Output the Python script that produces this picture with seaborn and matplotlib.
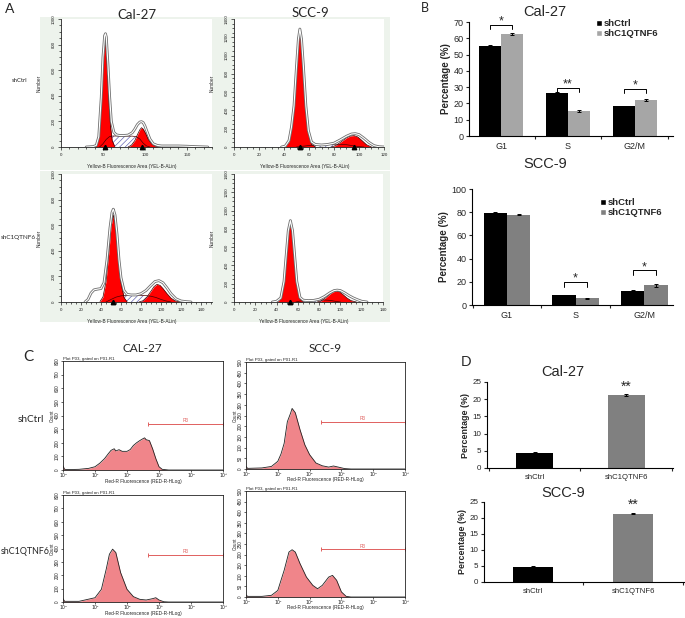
import numpy as np
import pandas as pd
import matplotlib
matplotlib.use("Agg")
import matplotlib.pyplot as plt
import seaborn as sns
from matplotlib.patches import Rectangle, Patch
from matplotlib.ticker import MultipleLocator, FixedLocator

sns.set_style("white")
plt.rcParams["font.family"] = ["Liberation Sans", "DejaVu Sans"]
plt.rcParams["hatch.linewidth"] = 0.45
plt.rcParams["hatch.color"] = "#5a5ab0"

# ---------------- data ----------------
# Panel A: DNA-content histograms (channel value, count)
a1_env_x = [30, 38, 42, 45, 48, 50, 52, 53, 54, 56, 58, 60, 63, 66, 70, 75, 80, 85, 88, 91, 94, 96, 98, 100, 103, 106, 110, 115, 120, 130, 140, 150, 160, 175]
a1_env_y = [0, 3, 12, 80, 390, 700, 870, 885, 860, 640, 390, 200, 115, 95, 90, 90, 93, 112, 140, 175, 195, 198, 190, 165, 112, 62, 25, 12, 8, 8, 8, 6, 3, 0]
a1_g1_x = [41, 44, 46, 48, 50, 51.5, 52.5, 53.5, 55, 57, 59, 61, 64]
a1_g1_y = [5, 50, 160, 370, 640, 800, 840, 800, 640, 370, 160, 50, 5]
a1_g2_x = [80, 84, 88, 91, 94, 96, 98, 101, 104, 108, 112, 116]
a1_g2_y = [0, 15, 50, 95, 135, 151, 140, 105, 60, 25, 8, 0]
a1_s_x = [46, 50, 54, 58, 62, 66, 70, 75, 80, 85, 90, 94, 98, 102, 106]
a1_s_y = [0, 25, 60, 82, 86, 86, 85, 85, 85, 85, 80, 62, 30, 8, 0]
a1_marks = [52.5, 96]

a2_env_x = [38, 41, 44, 46, 48, 50, 51.5, 52.7, 54, 55.5, 57.5, 59.5, 62, 65, 70, 75, 80, 85, 90, 94, 97, 100, 104, 108, 112, 116, 120]
a2_env_y = [0, 10, 70, 220, 450, 880, 1180, 1290, 1180, 890, 450, 180, 55, 28, 22, 28, 42, 78, 118, 142, 146, 136, 96, 50, 15, 3, 0]
a2_g1_x = [41, 44, 46, 48, 50, 51.5, 52.7, 54, 55.5, 57.5, 59.5, 62, 65]
a2_g1_y = [5, 60, 200, 430, 850, 1150, 1265, 1150, 860, 420, 160, 30, 3]
a2_g2_x = [78, 82, 86, 90, 93, 96, 99, 102, 106, 110]
a2_g2_y = [0, 20, 60, 100, 120, 125, 110, 75, 25, 0]
a2_s_x = [50, 55, 60, 65, 70, 75, 80, 85, 90, 95, 100, 104]
a2_s_y = [0, 8, 16, 22, 25, 28, 30, 30, 25, 14, 4, 0]
a2_marks = [52.7, 96]

a3_env_x = [24, 27, 30, 33, 36, 40, 43, 46, 49, 51, 52.3, 54, 56, 58, 60, 63, 66, 70, 75, 80, 85, 90, 94, 98, 102, 106, 110, 115, 120, 125, 130]
a3_env_y = [0, 20, 70, 95, 100, 105, 150, 330, 580, 700, 725, 680, 530, 330, 190, 90, 60, 55, 55, 65, 90, 130, 160, 167, 150, 110, 65, 25, 8, 3, 0]
a3_g1_x = [39, 42, 45, 48, 50, 52.3, 54.5, 57, 60, 63, 66]
a3_g1_y = [3, 40, 160, 400, 590, 680, 600, 380, 150, 35, 3]
a3_g2_x = [78, 82, 86, 90, 93, 96, 99, 102, 106, 110, 114, 119]
a3_g2_y = [0, 10, 40, 85, 120, 138, 130, 105, 65, 30, 10, 0]
a3_s_x = [45, 50, 55, 60, 65, 70, 75, 80, 85, 90, 95, 100, 105, 110]
a3_s_y = [0, 20, 38, 48, 52, 55, 55, 52, 50, 45, 35, 20, 8, 0]
a3_marks = [52.3]

a4_env_x = [36, 40, 44, 47, 49, 51, 53, 55, 57, 59, 62, 65, 70, 75, 80, 85, 90, 94, 97, 100, 104, 108, 112, 116, 120, 125]
a4_env_y = [0, 8, 45, 225, 505, 780, 890, 780, 505, 225, 50, 20, 15, 18, 30, 60, 100, 125, 130, 125, 100, 70, 45, 25, 8, 0]
a4_g1_x = [41, 44, 47, 49, 51, 53, 55, 57, 59, 62, 65]
a4_g1_y = [3, 40, 220, 500, 770, 880, 770, 500, 220, 40, 3]
a4_g2_x = [78, 82, 86, 90, 93, 96, 99, 102, 106, 110, 115]
a4_g2_y = [0, 12, 45, 85, 110, 120, 112, 85, 45, 15, 0]
a4_s_x = [58, 62, 66, 70, 75, 80, 85, 90, 95, 100]
a4_s_y = [0, 10, 15, 18, 20, 22, 22, 18, 8, 0]
a4_marks = [53]

# Panel B: cell-cycle distribution (%)
phases = ["G1", "S", "G2/M"]
groups = ["shCtrl", "shC1QTNF6"]
b_cal_ctrl = [55.5, 26.5, 18.2]
b_cal_kd = [62.5, 15.2, 22.3]
b_cal_ctrl_err = [0.5, 0.5, 0.4]
b_cal_kd_err = [0.5, 0.6, 0.6]
b_scc_ctrl = [79.5, 8.5, 12.5]
b_scc_kd = [78.0, 6.0, 17.0]
b_scc_ctrl_err = [0.4, 0.5, 0.5]
b_scc_kd_err = [0.6, 0.4, 1.3]
b_cal_sig = ["*", "**", "*"]
b_cal_sig_y = [68.0, 29.3, 29.0]
b_scc_sig = ["", "*", "*"]
b_scc_sig_y = [0.0, 19.8, 30.0]

# Panel C: apoptosis histograms (log10 fluorescence, count)
c_decade_labels = ["10⁰", "10¹", "10²", "10³", "10⁴", "10⁵"]
c1_lx = [0, 0.05, 0.15, 0.5, 0.8, 1.0, 1.15, 1.3, 1.4, 1.5, 1.6, 1.65, 1.75, 1.85, 2.0, 2.1, 2.2, 2.3, 2.4, 2.5, 2.55, 2.6, 2.7, 2.8, 2.9, 3.0, 3.1, 3.3, 5.0]
c1_ct = [30, 5, 3, 5, 12, 24, 50, 84, 115, 144, 156, 140, 149, 137, 137, 150, 180, 200, 216, 230, 236, 222, 216, 156, 84, 24, 5, 0, 0]
c2_lx = [0, 0.05, 0.5, 0.8, 1.0, 1.1, 1.2, 1.3, 1.4, 1.45, 1.55, 1.7, 1.85, 2.0, 2.2, 2.4, 2.6, 2.75, 2.9, 3.1, 3.3, 5.0]
c2_ct = [12, 3, 5, 12, 36, 70, 120, 221, 260, 283, 263, 183, 113, 67, 28, 15, 9, 14, 9, 2, 0, 0]
c3_lx = [0, 0.05, 0.5, 1.0, 1.2, 1.35, 1.45, 1.55, 1.65, 1.8, 2.0, 2.2, 2.4, 2.6, 2.8, 2.9, 3.0, 3.15, 3.3, 5.0]
c3_ct = [25, 5, 5, 32, 95, 245, 357, 395, 370, 220, 95, 40, 20, 15, 25, 32, 15, 2, 0, 0]
c4_lx = [0, 0.05, 0.5, 0.8, 1.0, 1.2, 1.35, 1.45, 1.55, 1.7, 1.9, 2.1, 2.25, 2.4, 2.6, 2.72, 2.85, 3.0, 3.15, 3.3, 5.0]
c4_ct = [10, 3, 3, 8, 31, 126, 212, 223, 212, 157, 94, 55, 39, 55, 94, 102, 79, 24, 3, 0, 0]
c_gate_y = [340, 220, 355, 226]
c_gate_lx = [2.66, 2.36, 2.66, 2.36]

# Panel D: apoptotic cells (%)
d_cal = [4.5, 21.3]
d_cal_err = [0.2, 0.35]
d_scc = [4.7, 21.4]
d_scc_err = [0.25, 0.3]

# ---------------- figure ----------------
W, H = 685, 618
fig = plt.figure(figsize=(W / 100, H / 100), dpi=100)
fig.patch.set_facecolor("white")


def pax(l, t, r, b):
    return fig.add_axes([l / W, 1 - b / H, (r - l) / W, (b - t) / H])


def ftext(x, y, s, **kw):
    kw.setdefault("ha", "center")
    kw.setdefault("va", "center")
    fig.text(x / W, 1 - y / H, s, **kw)


def frect(l, t, r, b, color):
    fig.add_artist(Rectangle((l / W, 1 - b / H), (r - l) / W, (b - t) / H,
                             transform=fig.transFigure, color=color, zorder=-5, lw=0))


LATO = ["Lato", "DejaVu Sans"]
PALE = "#edf3ec"


# ---- Panel A ----
def draw_A(ax, ex, ey, g1x, g1y, g2x, g2y, sx, sy, marks, xmax, xmaj, xmin, ymax):
    ax.set_facecolor("white")
    ax.fill_between(sx, sy, facecolor="white", hatch="//////", edgecolor="#5a5ab0", linewidth=0, zorder=1)
    ax.fill_between(g1x, g1y, color="#ff0000", lw=0, zorder=2)
    ax.fill_between(g2x, g2y, color="#ff0000", lw=0, zorder=2)
    sns.lineplot(x=sx, y=sy, ax=ax, color="#4a0000", lw=0.5, sort=False, zorder=3)
    sns.lineplot(x=g1x, y=g1y, ax=ax, color="#3a0000", lw=0.5, sort=False, zorder=3)
    sns.lineplot(x=g2x, y=g2y, ax=ax, color="#3a0000", lw=0.5, sort=False, zorder=3)
    ax.plot(ex, ey, color="#6e6e6e", lw=2.0, zorder=4)
    ax.plot(ex, ey, color="white", lw=0.8, zorder=4)
    ax.plot(marks, [0] * len(marks), "^", color="black", ms=3.2, clip_on=False, zorder=6)
    ax.set_xlim(0, xmax)
    ax.set_ylim(0, ymax)
    for s in ("top", "right"):
        ax.spines[s].set_visible(False)
    for s in ("left", "bottom"):
        ax.spines[s].set_color("#222")
        ax.spines[s].set_linewidth(0.6)
    ax.xaxis.set_major_locator(MultipleLocator(xmaj))
    ax.xaxis.set_minor_locator(MultipleLocator(xmin))
    ax.yaxis.set_major_locator(MultipleLocator(200))
    ax.yaxis.set_minor_locator(MultipleLocator(50))
    ax.tick_params(which="both", direction="out", width=0.5, colors="#222", labelsize=3.2, pad=1.5)
    ax.tick_params(which="major", length=2.5, bottom=True, left=True)
    ax.tick_params(which="minor", length=1.5, bottom=True, left=True)
    for lab in ax.get_yticklabels():
        lab.set_rotation(90)
        lab.set_va("center")
    ax.set_xlabel("Yellow-B Fluorescence Area (YEL-B-ALin)", fontsize=3.4)
    ax.set_ylabel("Number", fontsize=3.4)
    ax.xaxis.set_label_coords(0.47, -0.13)
    ax.yaxis.set_label_coords(-0.13, 0.5)


frect(40, 17, 213, 170, PALE)
frect(211, 17, 390, 170, PALE)
frect(40, 171, 213, 322, PALE)
frect(211, 171, 390, 322, PALE)

axA1 = pax(61, 19, 212, 147)
draw_A(axA1, a1_env_x, a1_env_y, a1_g1_x, a1_g1_y, a1_g2_x, a1_g2_y, a1_s_x, a1_s_y, a1_marks, 180, 50, 10, 1000)
axA2 = pax(234, 19, 384, 147)
draw_A(axA2, a2_env_x, a2_env_y, a2_g1_x, a2_g1_y, a2_g2_x, a2_g2_y, a2_s_x, a2_s_y, a2_marks, 120, 20, 5, 1400)
axA3 = pax(61, 174, 212, 302)
draw_A(axA3, a3_env_x, a3_env_y, a3_g1_x, a3_g1_y, a3_g2_x, a3_g2_y, a3_s_x, a3_s_y, a3_marks, 151, 20, 5, 1000)
axA4 = pax(234, 174, 383, 302)
draw_A(axA4, a4_env_x, a4_env_y, a4_g1_x, a4_g1_y, a4_g2_x, a4_g2_y, a4_s_x, a4_s_y, a4_marks, 140, 20, 5, 1400)

ftext(10, 9, "A", fontsize=10, family=LATO)
ftext(137, 15, "Cal-27", fontsize=9.5, family=LATO)
ftext(310, 13, "SCC-9", fontsize=9.5, family=LATO)
ftext(20, 81, "shCtrl", fontsize=4.3, family=LATO)
ftext(18, 237, "shC1QTNF6", fontsize=4.6, family=LATO)


# ---- Panel B ----
def style_bar_axes(ax, ncat, xlim, ymax, ystep, ylab_size, tick_size, xlab_size):
    ax.set_xlim(*xlim)
    ax.set_ylim(0, ymax)
    ax.yaxis.set_major_locator(MultipleLocator(ystep))
    for s in ("top", "right"):
        ax.spines[s].set_visible(False)
    for s in ("left", "bottom"):
        ax.spines[s].set_color("black")
        ax.spines[s].set_linewidth(0.8)
    ax.xaxis.set_minor_locator(FixedLocator(list(np.arange(ncat + 1) - 0.5)))
    ax.tick_params(axis="x", which="major", length=0, labelsize=xlab_size, pad=4)
    ax.tick_params(axis="x", which="minor", length=2.5, width=0.8, direction="out", bottom=True)
    ax.tick_params(axis="y", which="major", length=2.5, width=0.8, direction="out", left=True,
                   labelsize=tick_size, pad=1.5)
    ax.set_xlabel("")
    ax.set_ylabel("Percentage (%)", fontsize=ylab_size, fontweight="bold", labelpad=2)
    ax.grid(False)


def draw_B(ax, ctrl, kd, ectrl, ekd, gray, width, xlim, ymax, ystep, sig, sig_y, sig_h, leg_xy):
    df = pd.DataFrame({"phase": phases + phases,
                       "group": [groups[0]] * 3 + [groups[1]] * 3,
                       "pct": ctrl + kd})
    sns.barplot(data=df, x="phase", y="pct", hue="group", palette=["black", gray],
                width=width, errorbar=None, saturation=1, ax=ax, legend=False, linewidth=0)
    centers = []
    for cont, errs in zip(ax.containers, (ectrl, ekd)):
        cs = []
        for bar, e in zip(cont, errs):
            cx = bar.get_x() + bar.get_width() / 2
            cs.append(cx)
            ax.errorbar(cx, bar.get_height(), yerr=e, fmt="none", ecolor="black",
                        elinewidth=0.7, capsize=1.3, capthick=0.7, zorder=5)
        centers.append(cs)
    for i, (lab, y) in enumerate(zip(sig, sig_y)):
        if not lab:
            continue
        x0, x1 = centers[0][i], centers[1][i]
        ax.plot([x0, x0, x1, x1], [y - sig_h, y, y, y - sig_h], color="black", lw=0.7, clip_on=False)
        ax.text((x0 + x1) / 2, y - sig_h * 0.6, lab, ha="center", va="bottom", fontsize=9)
    style_bar_axes(ax, 3, xlim, ymax, ystep, 7, 6.5, 6.5)
    ax.legend(handles=[Patch(facecolor="black"), Patch(facecolor=gray)], labels=groups,
              loc="upper left", bbox_to_anchor=(leg_xy[0] / W, 1 - leg_xy[1] / H),
              bbox_transform=fig.transFigure, frameon=False,
              prop=dict(weight="bold", size=6.8), handlelength=0.65, handleheight=0.65,
              handletextpad=0.2, labelspacing=0.15, borderpad=0, borderaxespad=0)


axB1 = pax(469, 22, 673, 136)
draw_B(axB1, b_cal_ctrl, b_cal_kd, b_cal_ctrl_err, b_cal_kd_err, "#a6a6a6", 0.66,
       (-0.48, 2.57), 70, 10, b_cal_sig, b_cal_sig_y, 2.5, (596, 19))
axB2 = pax(472, 189, 673, 305)
draw_B(axB2, b_scc_ctrl, b_scc_kd, b_scc_ctrl_err, b_scc_kd_err, "#808080", 0.68,
       (-0.51, 2.42), 100, 20, b_scc_sig, b_scc_sig_y, 4.0, (600, 198))
ftext(425, 8, "B", fontsize=9, family=LATO)
ftext(545, 12, "Cal-27", fontsize=10.5)
ftext(545, 164, "SCC-9", fontsize=10.5)


# ---- Panel C ----
def draw_C(ax, lx, ct, ymax, ystep, gate_y, gate_lx):
    x = np.power(10.0, np.asarray(lx))
    ax.fill_between(x, ct, color="#f0858a", lw=0)
    sns.lineplot(x=x, y=ct, ax=ax, color="#222222", lw=0.6, sort=False)
    ax.set_xscale("log")
    ax.set_xlim(1, 1e5)
    ax.set_ylim(0, ymax)
    gx0 = 10 ** gate_lx
    ax.plot([gx0, 1e5], [gate_y, gate_y], color="#e0605e", lw=0.7, clip_on=False)
    ax.plot([gx0, 1e5], [gate_y, gate_y], "|", color="#e0605e", ms=3, mew=0.7, clip_on=False)
    ax.text(10 ** ((gate_lx + 5) / 2), gate_y + ymax * 0.005, "R3", color="#e0605e",
            fontsize=3.4, ha="center", va="bottom")
    for s in ax.spines.values():
        s.set_color("#222")
        s.set_linewidth(0.6)
    ax.set_xticks([10.0 ** k for k in range(len(c_decade_labels))])
    ax.set_xticklabels(c_decade_labels, family=["DejaVu Sans"])
    ax.xaxis.set_minor_locator(FixedLocator([]))
    ax.yaxis.set_major_locator(MultipleLocator(ystep))
    ax.tick_params(which="major", direction="out", length=1.5, width=0.5, labelsize=3.3, pad=0.6,
                   bottom=True, left=True, colors="#222")
    for lab in ax.get_yticklabels():
        lab.set_rotation(90)
        lab.set_va("center")
    h = ax.get_position().height * H
    w = ax.get_position().width * W
    ax.set_xlabel("Red-R Fluorescence (RED-R-HLog)", fontsize=3.4, va="center")
    ax.xaxis.set_label_coords(0.5, -11.0 / h)
    ax.set_ylabel("Count", fontsize=3.3, va="center")
    ax.yaxis.set_label_coords(-10.5 / w, 0.5)
    ax.set_title("Plot P03, gated on P01.R1", fontsize=3.2, loc="left", pad=0.8)
    ax.grid(False)


axC1 = pax(63, 361, 223, 470)
draw_C(axC1, c1_lx, c1_ct, 800, 100, c_gate_y[0], c_gate_lx[0])
axC2 = pax(246, 362, 405, 469)
draw_C(axC2, c2_lx, c2_ct, 500, 50, c_gate_y[1], c_gate_lx[1])
axC3 = pax(63, 495, 223, 602)
draw_C(axC3, c3_lx, c3_ct, 800, 100, c_gate_y[2], c_gate_lx[2])
axC4 = pax(246, 491, 405, 597)
draw_C(axC4, c4_lx, c4_ct, 500, 50, c_gate_y[3], c_gate_lx[3])

ftext(28, 357, "C", fontsize=11, family=LATO)
ftext(142, 348, "CAL-27", fontsize=8.5, family=LATO)
ftext(325, 349, "SCC-9", fontsize=8.5, family=LATO)
ftext(31, 420, "shCtrl", fontsize=7.2, family=LATO)
ftext(25, 552, "shC1QTNF6", fontsize=6.4, family=LATO)


# ---- Panel D ----
def draw_D(ax, vals, errs, xlim):
    df = pd.DataFrame({"group": groups, "pct": vals})
    sns.barplot(data=df, x="group", y="pct", hue="group", palette=["black", "#808080"],
                width=0.4, errorbar=None, saturation=1, legend=False, ax=ax, linewidth=0)
    for bar, e in zip(ax.patches, errs):
        cx = bar.get_x() + bar.get_width() / 2
        ax.errorbar(cx, bar.get_height(), yerr=e, fmt="none", ecolor="black",
                    elinewidth=0.7, capsize=1.3, capthick=0.7, zorder=5)
    top = ax.patches[1]
    ax.text(top.get_x() + top.get_width() / 2, top.get_height() + 0.4, "**",
            ha="center", va="bottom", fontsize=10)
    style_bar_axes(ax, 2, xlim, 25, 5, 6.4, 5.8, 5.6)


axD1 = pax(487, 382, 673, 468)
draw_D(axD1, d_cal, d_cal_err, (-0.52, 1.51))
axD2 = pax(484, 502, 684, 582)
draw_D(axD2, d_scc, d_scc_err, (-0.49, 1.51))
ftext(466, 362, "D", fontsize=10, family=LATO)
ftext(563, 372, "Cal-27", fontsize=10.5)
ftext(563, 493, "SCC-9", fontsize=10.5)

fig.savefig("out.png", dpi=100, facecolor="white")
